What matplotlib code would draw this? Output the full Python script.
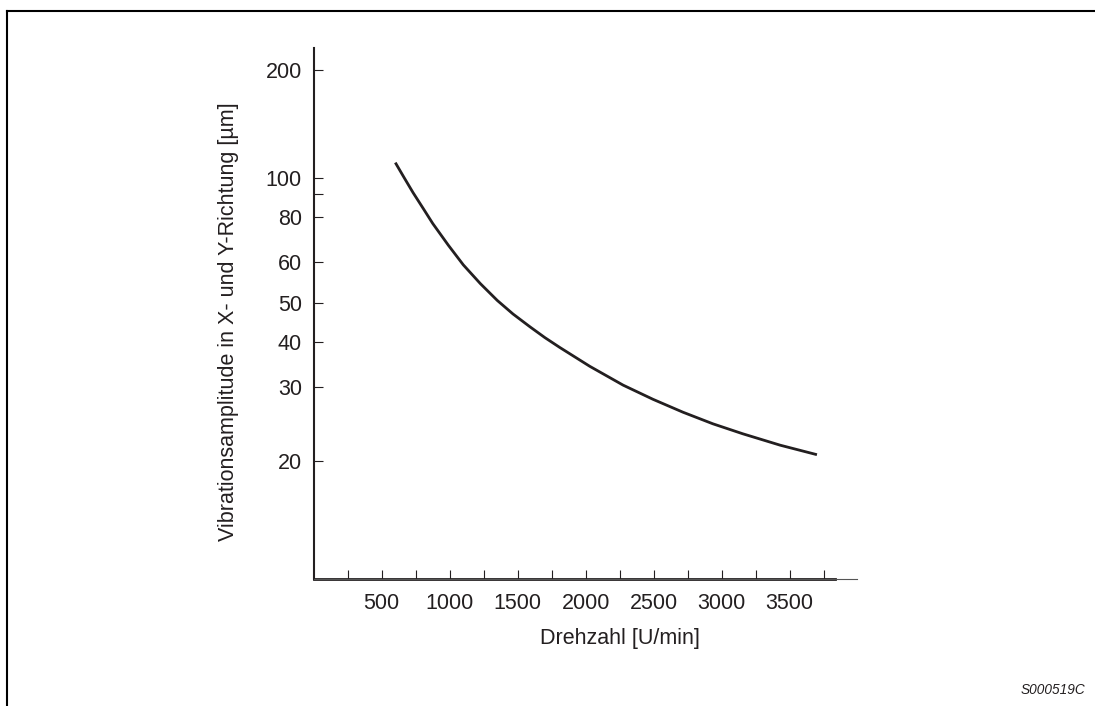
import numpy as np
import matplotlib
matplotlib.use('Agg')
from matplotlib import pyplot as plt
from matplotlib.lines import Line2D

# Daten
drehzahl = [600, 665, 730, 805, 875, 990, 1100, 1225, 1350, 1465, 1590, 1700,
            1810, 2030, 2275, 2495, 2715, 2935, 3155, 3430, 3700]
amplitude = [110.2, 100.0, 91.0, 83.7, 76.9, 66.9, 59.3, 54.5, 50.5, 46.9, 43.6,
             41.0, 38.6, 34.2, 30.3, 28.0, 26.1, 24.5, 23.2, 21.8, 20.7]

x_ticks = list(range(250, 4000, 250))
y_ticks = [20, 30, 40, 50, 60, 80, 90, 100, 200]
y_labels = ['20', '30', '40', '50', '60', '80', '', '100', '200']

# die Original-Skala ist nicht ganz logarithmisch -> Kalibrierung der Teilung
skala_werte = np.log10([10, 20, 30, 40, 50, 60, 80, 90, 100, 200, 230])
skala_pos = np.array([0, 118, 192.3, 237, 276.3, 316.7, 361.7, 384.7, 401.3, 509, 530.7])

def vorwaerts(v):
    v = np.clip(np.asarray(v, dtype=float), 1e-3, None)
    return np.interp(np.log10(v), skala_werte, skala_pos,
                     left=-1000, right=2000)

def rueckwaerts(p):
    return 10 ** np.interp(p, skala_pos, skala_werte)

dunkel = '#231f20'
plt.rcParams['font.family'] = ['Liberation Sans', 'DejaVu Sans']

fig = plt.figure(figsize=(10.95, 7.06), dpi=100)
ax = fig.add_axes([0.2865, 0.1799, 0.4962, 0.7517])

ax.plot(drehzahl, amplitude, color=dunkel, lw=2.0, solid_capstyle='butt',
        solid_joinstyle='round')

ax.set_yscale('function', functions=(vorwaerts, rueckwaerts))
ax.set_xlim(0, 3995)
ax.set_ylim(10, 230)

ax.set_xticks(x_ticks)
ax.set_xticklabels(['' if t % 500 else str(t) for t in x_ticks])
ax.set_yticks(y_ticks)
ax.set_yticklabels(y_labels)
ax.minorticks_off()
ax.tick_params(direction='in', length=6.5, width=0.8, color=dunkel,
               labelsize=15.5, labelcolor=dunkel)
ax.tick_params(axis='y', pad=8.5)
ax.tick_params(axis='x', pad=10)

for s in ['top', 'right']:
    ax.spines[s].set_visible(False)
ax.spines['left'].set_linewidth(1.5)
ax.spines['left'].set_color(dunkel)
ax.spines['bottom'].set_linewidth(0.8)
ax.spines['bottom'].set_color('#555555')
ax.axhline(10, xmin=0, xmax=3830 / 3995, color=dunkel, lw=2.0, clip_on=False)

ax.set_xlabel('Drehzahl [U/min]', fontsize=15.5, color=dunkel)
ax.set_ylabel('Vibrationsamplitude in X- und Y-Richtung [µm]', fontsize=15.5,
              color=dunkel)
ax.xaxis.set_label_coords(0.564, -0.092)
ax.yaxis.set_label_coords(-0.138, 0.484)

# Rahmen oben und links
fig.add_artist(Line2D([0.0062, 1.0], [1 - 11 / 706, 1 - 11 / 706],
                      transform=fig.transFigure, color='black', lw=1.5))
fig.add_artist(Line2D([0.0062, 0.0062], [0.0, 1 - 11 / 706],
                      transform=fig.transFigure, color='black', lw=1.5))

fig.text(0.991, 0.022, 'S000519C', ha='right', va='center', fontsize=9.8,
         style='italic', color=dunkel)

plt.savefig('out.png', dpi=100)
